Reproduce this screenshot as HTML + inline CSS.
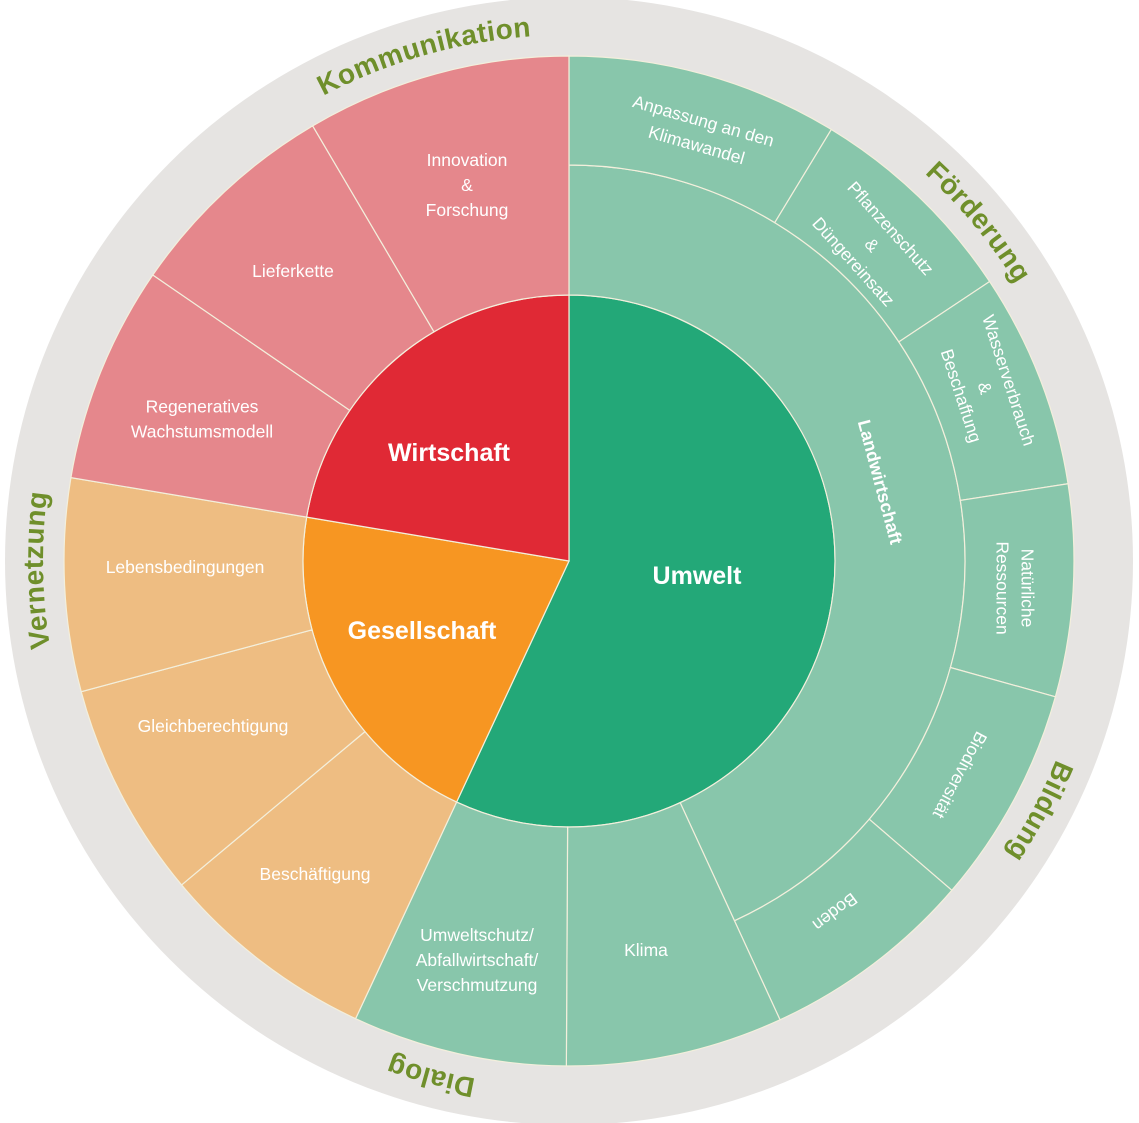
<!DOCTYPE html>
<html><head><meta charset="utf-8">
<style>
html,body{margin:0;padding:0;background:#fff;}
svg{display:block;}
text{font-family:"Liberation Sans",sans-serif;}
.l{fill:#fff;font-size:17.5px;text-anchor:middle;}
.lb{fill:#fff;font-size:18px;font-weight:bold;text-anchor:middle;}
.b{fill:#fff;font-size:25px;font-weight:bold;text-anchor:middle;}
.o{fill:#6f8f2b;font-size:28px;font-weight:bold;text-anchor:middle;letter-spacing:0.5px;}
</style></head><body>
<svg id="s" width="1139" height="1123" viewBox="0 0 1139 1123" xmlns="http://www.w3.org/2000/svg">
<defs>
<path id="ring" d="M569,35 A526,526 0 1 1 569,1087 A526,526 0 1 1 569,35"/>
</defs>
<circle cx="569" cy="561" r="564" fill="#e6e4e2"/>
<g id="w"></g>
<g id="t"></g>
</svg>
<script>
var cx=569,cy=561,NS="http://www.w3.org/2000/svg";
function P(r,b){b=b*Math.PI/180;return [cx+r*Math.sin(b),cy-r*Math.cos(b)];}
function sec(r0,r1,a0,a1,fill){
 var p1=P(r1,a0),p2=P(r1,a1),p3=P(r0,a1),p4=P(r0,a0),lg=(a1-a0)>180?1:0,d;
 if(r0==0){d="M"+cx+","+cy+" L"+p1+" A"+r1+","+r1+" 0 "+lg+" 1 "+p2+" Z";}
 else d="M"+p1+" A"+r1+","+r1+" 0 "+lg+" 1 "+p2+" L"+p3+" A"+r0+","+r0+" 0 "+lg+" 0 "+p4+" Z";
 var e=document.createElementNS(NS,"path");e.setAttribute("d",d);e.setAttribute("fill",fill);
 e.setAttribute("stroke","#f3efdc");e.setAttribute("stroke-width","1.2");
 document.getElementById("w").appendChild(e);}
var LG="#88c6ab",LR="#e5878c",LO="#eebd82";
sec(0,266,0,205,"#23a878");sec(0,266,205,279.5,"#f79622");sec(0,266,279.5,360,"#e02935");
sec(266,396,0,155.3,LG);
sec(396,505,0,31.3,LG);sec(396,505,31.3,56.4,LG);sec(396,505,56.4,81.2,LG);
sec(396,505,81.2,105.6,LG);sec(396,505,105.6,130.7,LG);sec(396,505,130.7,155.3,LG);
sec(266,505,155.3,180.3,LG);sec(266,505,180.3,205,LG);
sec(266,505,205,230.1,LO);sec(266,505,230.1,255,LO);sec(266,505,255,279.5,LO);
sec(266,505,279.5,304.5,LR);sec(266,505,304.5,329.5,LR);sec(266,505,329.5,360,LR);
function lab(x,y,rot,lines,cls){
 var g=document.createElementNS(NS,"g");g.setAttribute("transform","translate("+x+","+y+") rotate("+rot+")");
 var n=lines.length,lh=cls=="b"?30:25;
 for(var i=0;i<n;i++){var t=document.createElementNS(NS,"text");t.setAttribute("class",cls);
  t.setAttribute("x",0);t.setAttribute("y",(i-(n-1)/2)*lh+6);t.textContent=lines[i];g.appendChild(t);}
 document.getElementById("t").appendChild(g);}
lab(697,578,0,["Umwelt"],"b");lab(449,455,0,["Wirtschaft"],"b");lab(422,633,0,["Gesellschaft"],"b");
lab(700,133,16,["Anpassung an den","Klimawandel"],"l");
lab(872,245,48,["Pflanzenschutz","&","Düngereinsatz"],"l");
lab(985,388,72,["Wasserverbrauch","&","Beschaffung"],"l");
lab(1015,588,90,["Natürliche","Ressourcen"],"l");
lab(960,775,118,["Biodiversität"],"l");
lab(835,912,143,["Boden"],"l");
lab(880,482,75,["Landwirtschaft"],"lb");
lab(646,950,0,["Klima"],"l");
lab(477,960,0,["Umweltschutz/","Abfallwirtschaft/","Verschmutzung"],"l");
lab(315,874,0,["Beschäftigung"],"l");
lab(213,726,0,["Gleichberechtigung"],"l");
lab(185,567,0,["Lebensbedingungen"],"l");
lab(202,419,0,["Regeneratives","Wachstumsmodell"],"l");
lab(293,271,0,["Lieferkette"],"l");
lab(467,185,0,["Innovation","&","Forschung"],"l");
var R=526,C=2*Math.PI*R;
[["Kommunikation",344],["Förderung",50.4],["Bildung",118],["Dialog",195],["Vernetzung",269]].forEach(function(a){
 var t=document.createElementNS(NS,"text");t.setAttribute("class","o");
 var tp=document.createElementNS(NS,"textPath");tp.setAttribute("href","#ring");
 tp.setAttributeNS("http://www.w3.org/1999/xlink","xlink:href","#ring");
 tp.setAttribute("startOffset",(C*a[1]/360).toFixed(1));tp.textContent=a[0];t.appendChild(tp);
 document.getElementById("t").appendChild(t);});
</script>
</body></html>
